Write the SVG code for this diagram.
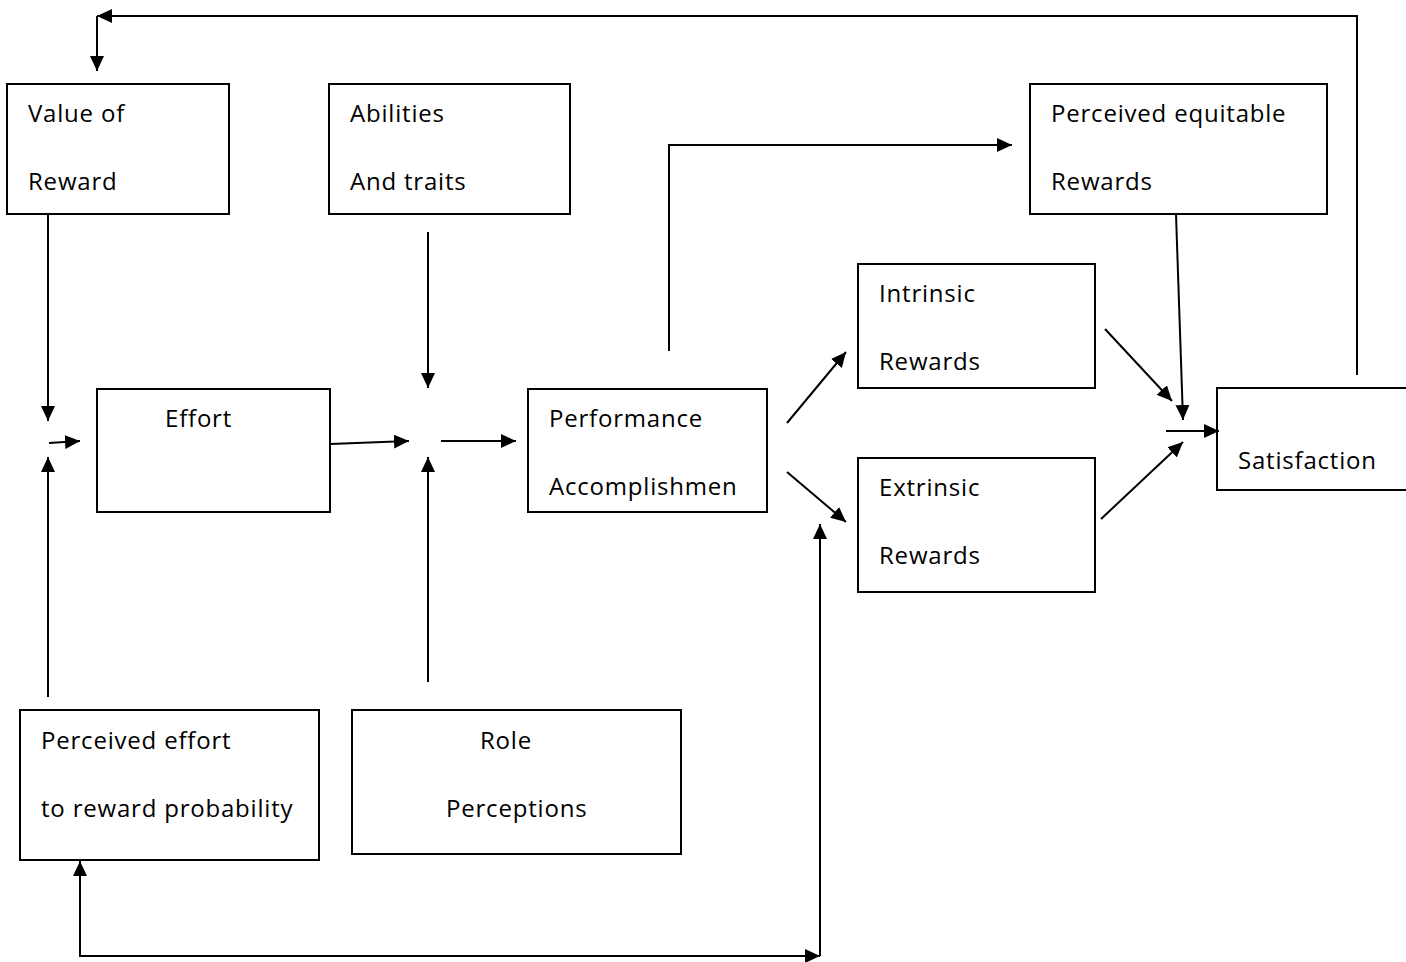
<svg xmlns="http://www.w3.org/2000/svg" width="1406" height="962" viewBox="0 0 1406 962">
  <style>
    .box { fill: #fff; stroke: #000; stroke-width: 2; }
    .lbl { font-family: "Open Sans", "Noto Sans", "Liberation Sans", sans-serif; font-size: 24px; letter-spacing: 0.8px; fill: #000; }
    .arr { fill: none; stroke: #000; stroke-width: 2; marker-end: url(#head); }
  </style>
  <defs>
    <marker id="head" viewBox="0 0 15 14" refX="15" refY="7" markerWidth="15" markerHeight="14" markerUnits="userSpaceOnUse" orient="auto">
      <path d="M0,0 L15,7 L0,14 Z" fill="#000"/>
    </marker>
  </defs>
  <rect width="1406" height="962" fill="#fff"/>

  <g id="value-of-reward">
    <rect class="box" x="7" y="84" width="222" height="130"/>
    <text class="lbl" x="28" y="122">Value of</text>
    <text class="lbl" x="28" y="190">Reward</text>
  </g>
  <g id="abilities">
    <rect class="box" x="329" y="84" width="241" height="130"/>
    <text class="lbl" x="350" y="122">Abilities</text>
    <text class="lbl" x="350" y="190">And traits</text>
  </g>
  <g id="perceived-equitable">
    <rect class="box" x="1030" y="84" width="297" height="130"/>
    <text class="lbl" x="1051" y="122">Perceived equitable</text>
    <text class="lbl" x="1051" y="190">Rewards</text>
  </g>
  <g id="intrinsic">
    <rect class="box" x="858" y="264" width="237" height="124"/>
    <text class="lbl" x="879" y="302">Intrinsic</text>
    <text class="lbl" x="879" y="370">Rewards</text>
  </g>
  <g id="effort">
    <rect class="box" x="97" y="389" width="233" height="123"/>
    <text class="lbl" x="165" y="427">Effort</text>
  </g>
  <g id="performance">
    <rect class="box" x="528" y="389" width="239" height="123"/>
    <text class="lbl" x="549" y="427">Performance</text>
    <text class="lbl" x="549" y="495">Accomplishmen</text>
  </g>
  <g id="extrinsic">
    <rect class="box" x="858" y="458" width="237" height="134"/>
    <text class="lbl" x="879" y="496">Extrinsic</text>
    <text class="lbl" x="879" y="564">Rewards</text>
  </g>
  <g id="satisfaction">
    <rect class="box" x="1217" y="388" width="200" height="102"/>
    <text class="lbl" x="1238" y="469">Satisfaction</text>
  </g>
  <g id="perceived-effort">
    <rect class="box" x="20" y="710" width="299" height="150"/>
    <text class="lbl" x="41" y="749">Perceived effort</text>
    <text class="lbl" x="41" y="817">to reward probability</text>
  </g>
  <g id="role">
    <rect class="box" x="352" y="710" width="329" height="144"/>
    <text class="lbl" x="480" y="749">Role</text>
    <text class="lbl" x="446" y="817">Perceptions</text>
  </g>

  <g id="connectors">
    <!-- feedback loop from satisfaction to value of reward -->
    <polyline class="arr" points="1357,375 1357,16 97,16"/>
    <line class="arr" x1="97" y1="16" x2="97" y2="71"/>
    <!-- inputs to effort -->
    <line class="arr" x1="48" y1="214" x2="48" y2="421"/>
    <line class="arr" x1="49" y1="443" x2="80" y2="441"/>
    <line class="arr" x1="48" y1="697" x2="48" y2="457"/>
    <!-- inputs to performance -->
    <line class="arr" x1="428" y1="232" x2="428" y2="388"/>
    <line class="arr" x1="330" y1="444" x2="409" y2="441"/>
    <line class="arr" x1="441" y1="441" x2="516" y2="441"/>
    <line class="arr" x1="428" y1="682" x2="428" y2="457"/>
    <!-- performance outputs -->
    <polyline class="arr" points="669,351 669,145 1012,145"/>
    <line class="arr" x1="787" y1="423" x2="846" y2="352"/>
    <line class="arr" x1="787" y1="472" x2="846" y2="522"/>
    <!-- rewards to satisfaction -->
    <line class="arr" x1="1105" y1="329" x2="1172" y2="401"/>
    <line class="arr" x1="1176" y1="214" x2="1183" y2="420"/>
    <line class="arr" x1="1101" y1="519" x2="1183" y2="442"/>
    <line class="arr" x1="1166" y1="431" x2="1219" y2="431"/>
    <!-- bottom loop -->
    <line class="arr" x1="80" y1="872" x2="80" y2="861"/>
    <polyline class="arr" points="80,872 80,956 820,956"/>
    <line class="arr" x1="820" y1="956" x2="820" y2="524"/>
  </g>
</svg>
